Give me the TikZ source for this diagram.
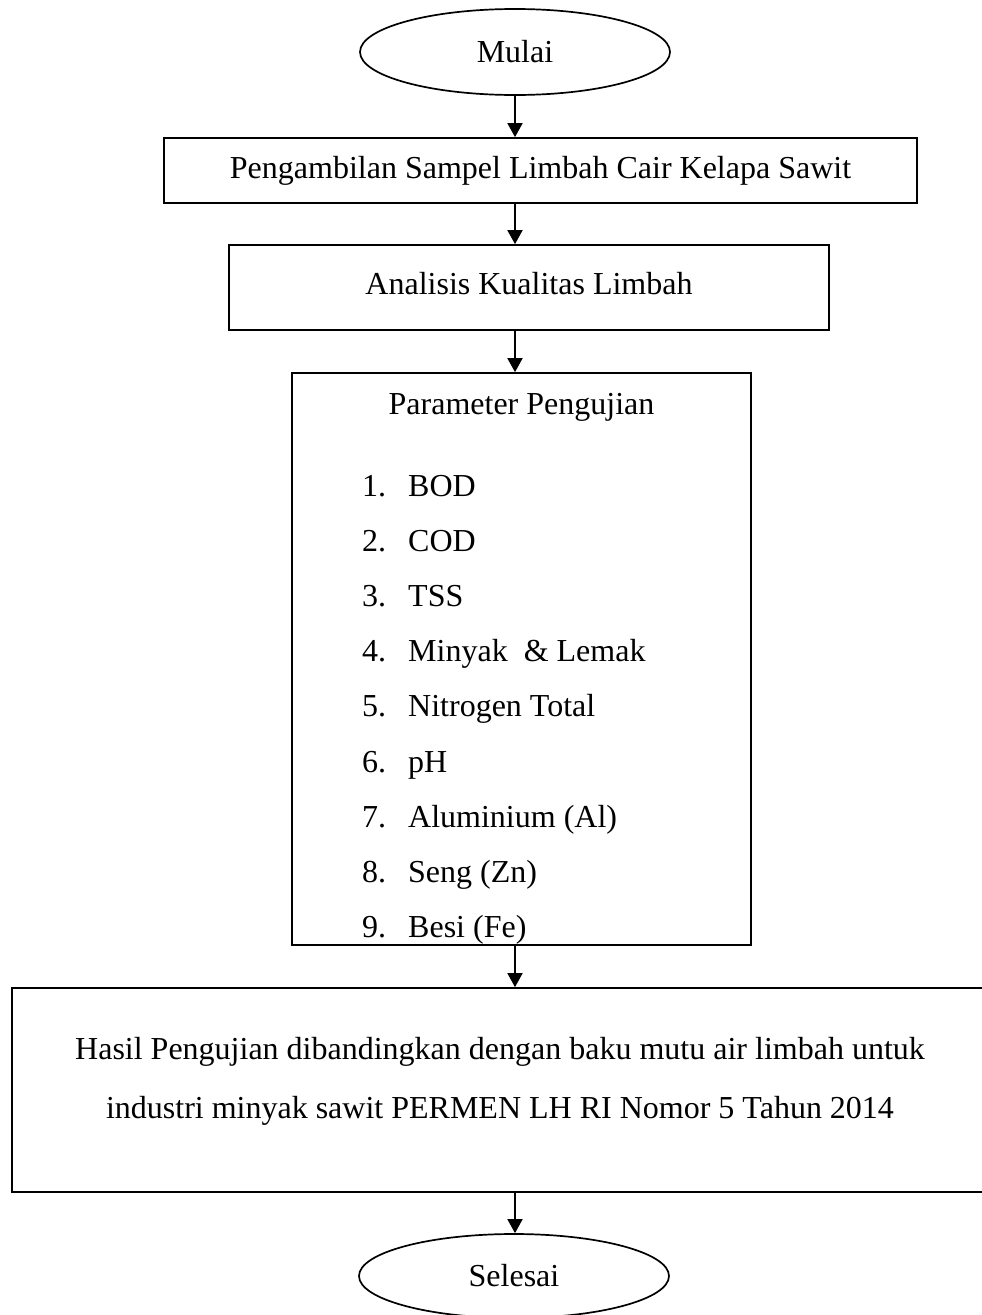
\documentclass[tikz,border=0pt]{standalone}
\usepackage{fontspec}
\setmainfont{Liberation Serif}
\usetikzlibrary{shapes.geometric,arrows.meta}
\begin{document}
\begin{tikzpicture}[x=1pt,y=-1pt,
  every node/.style={font=\fontsize{32}{38}\selectfont},
  boxnode/.style={draw,line width=1.7pt,rectangle,inner sep=0pt},
  ovalnode/.style={draw,line width=1.7pt,ellipse,inner sep=0pt},
  txt/.style={inner sep=0pt,anchor=base west},
  flow/.style={line width=1.7pt,-{Triangle[length=14pt,width=15pt]}}]
\useasboundingbox (0,0) rectangle (982,1315);
\clip (0,0) rectangle (982,1315);
\fill[white] (0,0) rectangle (982,1315);
\coordinate (ax) at (515,0);
\node[ovalnode,minimum width=310pt,minimum height=86pt] (start) at (515,52) {Mulai};
\node[boxnode,minimum width=753pt,minimum height=65pt] (b1) at (540.5,170.5) {Pengambilan Sampel Limbah Cair Kelapa Sawit};
\node[boxnode,minimum width=600pt,minimum height=85pt] (b2) at (529,287.5) {\raisebox{9pt}{Analisis Kualitas Limbah}};
\node[boxnode,minimum width=459pt,minimum height=572pt] (b3) at (521.5,659) {};
\node[inner sep=0pt,anchor=base] (title) at (521.5,414) {Parameter Pengujian};
\foreach \n/\t [count=\i from 0] in {1./BOD,2./COD,3./TSS,4./{Minyak\ \ \& Lemak},5./Nitrogen Total,6./pH,7./Aluminium (Al),8./Seng (Zn),9./Besi (Fe)}{
  \node[txt] (n\i) at (362,496+55.2*\i) {\n};
  \node[txt] (t\i) at (408,496+55.2*\i) {\t};
}
\node[boxnode,minimum width=976pt,minimum height=204pt] (b4) at (500,1090) {};
\node[inner sep=0pt,align=center,anchor=base,font=\fontsize{32}{59}\selectfont] (b4t) at (500,1118) {Hasil Pengujian dibandingkan dengan baku mutu air limbah untuk\\industri minyak sawit PERMEN LH RI Nomor 5 Tahun 2014};
\node[ovalnode,minimum width=310pt,minimum height=84pt] (end) at (514,1276) {Selesai};
\draw[flow] (ax |- start.south) -- (ax |- b1.north);
\draw[flow] (ax |- b1.south) -- (ax |- b2.north);
\draw[flow] (ax |- b2.south) -- (ax |- b3.north);
\draw[flow] (ax |- b3.south) -- (ax |- b4.north);
\draw[flow] (ax |- b4.south) -- (ax |- end.north);
\end{tikzpicture}
\end{document}
